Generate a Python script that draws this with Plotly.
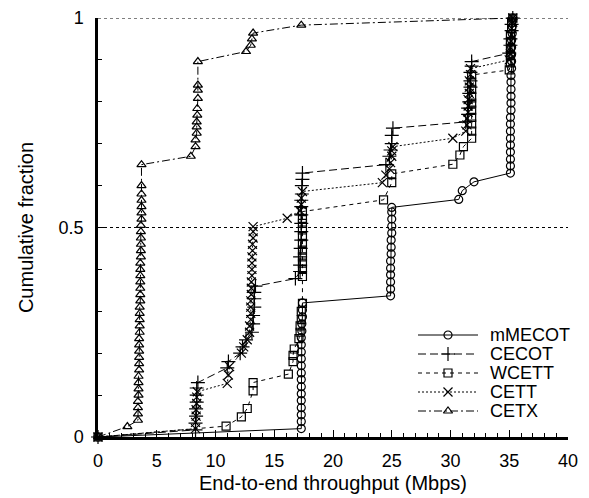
import plotly.graph_objects as go

# ---------------- data ----------------
mmecot_x = [0, 17.3, 17.3, 17.3, 17.3, 17.3, 17.3, 17.3, 17.3, 17.3, 17.3, 17.3, 17.3, 17.3, 17.3,
            17.35, 17.35, 17.4, 17.4, 17.4,
            24.9, 24.9, 24.9, 24.9, 24.9, 24.9, 24.95, 24.95, 24.95, 25.0, 25.0, 25.0, 25.0, 25.0,
            30.7, 31.0, 32.0,
            35.1, 35.1, 35.1, 35.1, 35.1, 35.1, 35.1, 35.1, 35.1, 35.15, 35.15, 35.15, 35.15, 35.15,
            35.15, 35.2, 35.2, 35.2, 35.2, 35.2, 35.25, 35.25, 35.3]
mmecot_y = [0, 0.02, 0.037, 0.053, 0.07, 0.087, 0.103, 0.12, 0.137, 0.153, 0.17, 0.187, 0.203, 0.22, 0.237,
            0.253, 0.27, 0.287, 0.303, 0.32,
            0.337, 0.353, 0.37, 0.387, 0.403, 0.42, 0.437, 0.453, 0.47, 0.487, 0.503, 0.52, 0.537, 0.548,
            0.567, 0.588, 0.609,
            0.63, 0.647, 0.663, 0.68, 0.697, 0.713, 0.73, 0.747, 0.763, 0.78, 0.797, 0.813, 0.83, 0.847,
            0.863, 0.88, 0.897, 0.913, 0.93, 0.947, 0.963, 0.98, 1.0]

cecot_x = [0, 8.3, 8.3, 8.35, 8.35, 8.4, 8.4, 8.4, 8.5,
           11.0, 11.1, 12.1, 12.3, 12.6,
           13.1, 13.2, 13.2, 13.3, 13.3, 13.3, 13.4,
           16.8, 17.2, 17.2, 17.2, 17.25, 17.3, 17.3, 17.3, 17.3, 17.3, 17.3, 17.35, 17.35, 17.4, 17.4,
           24.5, 24.8, 24.9, 25.0, 25.0, 25.1,
           31.3, 31.5, 31.5, 31.6, 31.6, 31.7, 31.7, 31.7, 31.8, 31.8,
           35.0, 35.1, 35.1, 35.2, 35.2, 35.3]
cecot_y = [0, 0.017, 0.033, 0.05, 0.067, 0.083, 0.1, 0.117, 0.13,
           0.165, 0.18, 0.2, 0.215, 0.232,
           0.25, 0.27, 0.29, 0.31, 0.33, 0.345, 0.36,
           0.378, 0.395, 0.41, 0.43, 0.45, 0.47, 0.49, 0.51, 0.53, 0.55, 0.565, 0.58, 0.6, 0.615, 0.63,
           0.65, 0.67, 0.685, 0.7, 0.72, 0.737,
           0.752, 0.77, 0.785, 0.8, 0.82, 0.835, 0.85, 0.87, 0.885, 0.896,
           0.916, 0.935, 0.95, 0.97, 0.985, 1.0]

wcett_x = [0, 10.9, 12.2, 12.7, 13.2, 13.2, 16.2,
           16.6, 16.6, 16.7, 17.1, 17.2, 17.2, 17.3, 17.3, 17.4,
           17.4, 17.4, 17.4, 17.4, 17.4, 17.4, 17.4, 17.4, 17.4, 17.4, 17.4,
           24.3, 25.0, 25.0,
           30.2, 30.8, 31.1,
           31.8, 31.8, 31.8, 31.8, 31.8, 31.8, 31.8, 31.8, 31.8, 31.8,
           35.0, 35.1, 35.1, 35.1, 35.1, 35.1, 35.2, 35.2, 35.3]
wcett_y = [0, 0.026, 0.048, 0.068, 0.11, 0.13, 0.15,
           0.18, 0.195, 0.21, 0.235, 0.25, 0.265, 0.28, 0.3, 0.319,
           0.383, 0.4, 0.415, 0.43, 0.446, 0.462, 0.478, 0.494, 0.51, 0.522, 0.538,
           0.566, 0.607, 0.628,
           0.651, 0.673, 0.693,
           0.713, 0.73, 0.747, 0.763, 0.78, 0.797, 0.813, 0.83, 0.847, 0.864,
           0.876, 0.893, 0.91, 0.927, 0.943, 0.96, 0.975, 0.99, 1.0]

cett_x = [0, 8.3, 8.3, 8.35, 8.35, 8.4, 8.4, 8.45,
          11.0, 11.1, 11.2, 12.2, 12.4, 12.7,
          12.9, 12.9, 13.0, 13.0, 13.0, 13.0, 13.05, 13.05, 13.05, 13.1, 13.1, 13.1, 13.1, 13.15, 13.15,
          13.2, 13.2, 13.2,
          16.1, 17.2, 17.3, 17.3, 17.4,
          24.2, 24.5, 24.8, 24.9, 25.0, 25.0, 25.1,
          30.2, 31.3, 31.4, 31.4, 31.5, 31.5, 31.5, 31.6, 31.6, 31.6, 31.7, 31.7,
          35.0, 35.1, 35.1, 35.15, 35.2, 35.2, 35.3, 35.3]
cett_y = [0, 0.02, 0.035, 0.05, 0.065, 0.08, 0.095, 0.108,
          0.128, 0.148, 0.168, 0.2, 0.215, 0.232,
          0.25, 0.265, 0.28, 0.295, 0.31, 0.325, 0.34, 0.355, 0.37, 0.385, 0.4, 0.415, 0.43, 0.445, 0.46,
          0.475, 0.49, 0.502,
          0.522, 0.54, 0.555, 0.57, 0.586,
          0.607, 0.625, 0.64, 0.655, 0.67, 0.683, 0.693,
          0.713, 0.73, 0.745, 0.76, 0.775, 0.79, 0.805, 0.82, 0.835, 0.85, 0.865, 0.879,
          0.9, 0.915, 0.93, 0.945, 0.96, 0.975, 0.99, 1.0]

cetx_x = [0, 2.5, 3.4, 3.4, 3.4, 3.4, 3.45, 3.45, 3.45, 3.45, 3.5, 3.5, 3.5, 3.5, 3.5, 3.5, 3.55, 3.55,
          3.55, 3.55, 3.55, 3.6, 3.6, 3.6, 3.6, 3.6, 3.6, 3.6, 3.65, 3.65, 3.65, 3.65, 3.65, 3.65, 3.7,
          3.7, 3.7, 3.7, 3.7, 3.7, 3.7,
          7.9, 8.3, 8.3, 8.4, 8.4, 8.4, 8.45, 8.45, 8.5, 8.5, 8.5, 8.5,
          12.6, 13.0, 13.1, 13.2, 17.3, 35.3]
cetx_y = [0, 0.025, 0.04, 0.055, 0.07, 0.085, 0.1, 0.115, 0.13, 0.145, 0.16, 0.175, 0.19, 0.205, 0.22,
          0.235, 0.25, 0.265, 0.28, 0.295, 0.31, 0.325, 0.34, 0.355, 0.37, 0.385, 0.4, 0.415, 0.43,
          0.445, 0.46, 0.475, 0.49, 0.505, 0.52, 0.535, 0.55, 0.565, 0.58, 0.6, 0.65,
          0.67, 0.693, 0.709, 0.725, 0.74, 0.752, 0.768, 0.784, 0.808, 0.828, 0.84, 0.896,
          0.92, 0.935, 0.95, 0.964, 0.983, 1.0]

series_names = ["mMECOT", "CECOT", "WCETT", "CETT", "CETX"]
series_x = [mmecot_x, cecot_x, wcett_x, cett_x, cetx_x]
series_y = [mmecot_y, cecot_y, wcett_y, cett_y, cetx_y]

x_ticks = [0, 5, 10, 15, 20, 25, 30, 35, 40]
y_ticks = [0, 0.5, 1]
y_tick_text = ["0", "0.5", "1"]

# ---------------- styles ----------------
series_dash = ["solid", "8px,4px", "4px,4px", "2px,2px", "8px,3px,2px,3px"]
series_symbol = ["circle-open", "cross-thin-open", "square-open", "x-thin-open", "triangle-up-open"]
series_size = [8, 10, 8, 9, 8]

# the page body adds an 8 px offset, so the figure is 8 px smaller on each axis
W, H = 581, 490
L, R, T, B = 90, 21, 10, 61
font_family = "Liberation Sans, Arial, sans-serif"

fig = go.Figure()
for name, xs, ys, dash, sym, sz in zip(series_names, series_x, series_y,
                                        series_dash, series_symbol, series_size):
    fig.add_trace(go.Scatter(
        x=xs, y=ys, name=name, mode="lines+markers", showlegend=False,
        line=dict(color="black", width=1, dash=dash),
        marker=dict(symbol=sym, size=sz, color="black", line=dict(color="black", width=1.2)),
        cliponaxis=False,
    ))

# ---- hand-placed legend (overlay axis measured in figure pixels) ----
leg_line_x0, leg_line_x1, leg_text_x = 410, 470, 480
leg_row0, leg_row_step = 327, 19
for i, (name, dash, sym, sz) in enumerate(zip(series_names, series_dash, series_symbol, series_size)):
    ry = leg_row0 + i * leg_row_step
    fig.add_trace(go.Scatter(
        x=[leg_line_x0, leg_line_x1], y=[ry, ry], xaxis="x2", yaxis="y2",
        mode="lines", showlegend=False, hoverinfo="skip",
        line=dict(color="black", width=1, dash=dash)))
    fig.add_trace(go.Scatter(
        x=[(leg_line_x0 + leg_line_x1) / 2], y=[ry], xaxis="x2", yaxis="y2",
        mode="markers", showlegend=False, hoverinfo="skip",
        marker=dict(symbol=sym, size=sz, color="black", line=dict(color="black", width=1.2))))
    fig.add_annotation(x=leg_text_x, y=ry, xref="x2", yref="y2", text=name,
                       showarrow=False, xanchor="left", yanchor="middle",
                       font=dict(size=18, family=font_family, color="black"))

fig.update_layout(
    width=W, height=H,
    margin=dict(l=L, r=R, t=T, b=B, autoexpand=False),
    paper_bgcolor="white", plot_bgcolor="white",
    font=dict(family=font_family, color="black", size=18),
    showlegend=False,
    xaxis=dict(
        range=[0, 40], tickvals=x_ticks, ticks="inside", ticklen=7, tickwidth=1,
        tickcolor="black", showline=True, linecolor="black", linewidth=2.5,
        showgrid=False, zeroline=False, mirror=False, automargin=False,
        minor=dict(dtick=1, ticks="inside", ticklen=4, tickcolor="black", showgrid=False),
        tickfont=dict(size=18), ticklabelstandoff=6,
        title=dict(text="End-to-end throughput (Mbps)", font=dict(size=20), standoff=6),
    ),
    yaxis=dict(
        range=[0, 1], tickvals=y_ticks, ticktext=y_tick_text, ticks="inside", ticklen=7,
        tickwidth=1, tickcolor="black", showline=True, linecolor="black", linewidth=2.5,
        showgrid=True, gridcolor="black", griddash="dot", gridwidth=1,
        zeroline=False, mirror=False, automargin=False,
        minor=dict(dtick=0.1, ticks="inside", ticklen=4, tickcolor="black", showgrid=False),
        tickfont=dict(size=18), ticklabelstandoff=8,
        title=dict(text="Cumulative fraction", font=dict(size=20), standoff=20),
    ),
    xaxis2=dict(range=[L, W - R], overlaying="x", visible=False, fixedrange=True),
    yaxis2=dict(range=[H - B, T], overlaying="y", visible=False, fixedrange=True),
    shapes=[dict(type="line", xref="paper", yref="y", x0=0, x1=1, y0=1, y1=1,
                 line=dict(color="black", width=1, dash="dot"), layer="below")],
)

fig.write_html("out.html")
